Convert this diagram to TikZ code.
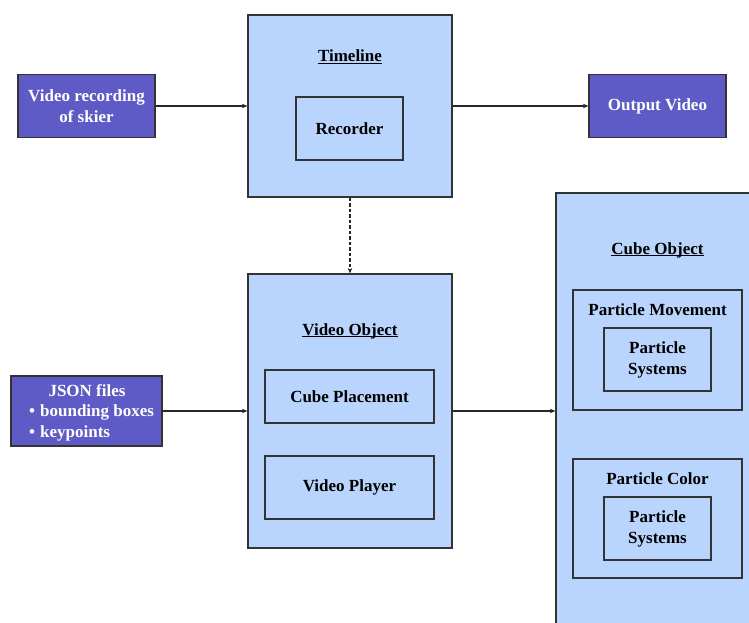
\documentclass[tikz,border=0pt]{standalone}
\usepackage{fontspec}
\setmainfont{Liberation Serif}
\usetikzlibrary{arrows.meta}
\definecolor{darkfill}{HTML}{5F5BC6}
\definecolor{lightfill}{HTML}{B9D5FD}
\definecolor{edgegray}{HTML}{333333}
\newcommand\ulx[1]{\setbox0\hbox{#1}\rlap{\rule[-2.3pt]{\wd0}{1.1pt}}\box0}
\tikzset{
  base/.style={draw=edgegray, line width=1.2pt, inner sep=0pt, font=\fontsize{17}{21}\selectfont\bfseries, align=center},
  darkbox/.style={base, fill=darkfill, text=white},
  lightbox/.style={base, fill=lightfill, text=black},
  lbl/.style={inner sep=0pt, font=\fontsize{17}{21}\selectfont\bfseries, align=center},
  conn/.style={draw=black!85, line width=1.3pt, -{Stealth[length=5.5pt,width=4.5pt]}},
}
\begin{document}
\begin{tikzpicture}[x=1pt,y=1pt]
\useasboundingbox (0,0) rectangle (749,-622);
\fill[white] (0,0) rectangle (749,-622);
% left / top boxes
\node[darkbox, minimum width=137pt, minimum height=63pt] (vid) at (86.5,-106) {Video recording\\of skier};
\node[lightbox, minimum width=204pt, minimum height=182pt] (tl) at (350,-106) {};
\node[lbl] (tlt) at (350,-57) {\ulx{Timeline}};
\node[lightbox, minimum width=107pt, minimum height=63pt] (rec) at (349.5,-128.5) {Recorder};
\node[darkbox, minimum width=137pt, minimum height=63pt] (out) at (657.5,-106) {Output Video};
% video object
\node[lightbox, minimum width=204pt, minimum height=274pt] (vo) at (350,-411) {};
\node[lbl] (vot) at (350,-331) {\ulx{Video Object}};
\node[lightbox, minimum width=169pt, minimum height=53pt] (cp) at (349.5,-396.5) {Cube Placement};
\node[lightbox, minimum width=169pt, minimum height=63pt] (vp) at (349.5,-487.5) {Video Player};
% json
\node[darkbox, minimum width=151pt, minimum height=70pt] (json) at (86.5,-411) {};
\node[lbl, text=white] (jsont) at (87,-391) {JSON files};
\node[lbl, text=white, anchor=west, align=left] (jsonb) at (29,-423) {\textbullet\hspace{5pt}bounding boxes\\ \textbullet\hspace{5pt}keypoints};
% cube object (extends past the page)
\begin{scope}
\clip (0,0) rectangle (749,-622);
\node[lightbox, minimum width=204pt, minimum height=507pt] (co) at (658,-446.5) {};
\end{scope}
\node[lbl] (cot) at (657.5,-250) {\ulx{Cube Object}};
\node[lightbox, minimum width=169pt, minimum height=120pt] (pm) at (657.5,-350) {};
\node[lbl] (pmt) at (657.5,-310) {Particle Movement};
\node[lightbox, minimum width=107pt, minimum height=63pt] (ps1) at (657.5,-359.5) {Particle\\Systems};
\node[lightbox, minimum width=169pt, minimum height=119pt] (pc) at (657.5,-518.5) {};
\node[lbl] (pct) at (657.5,-479) {Particle Color};
\node[lightbox, minimum width=107pt, minimum height=63pt] (ps2) at (657.5,-528.5) {Particle\\Systems};
% connectors
\draw[conn] (vid.east) -- (vid.east -| tl.west);
\draw[conn] (out.west -| tl.east) -- (out.west);
\draw[conn, dash pattern=on 3.5pt off 2pt, line width=1.1pt] (tl.south) -- (vo.north);
\draw[conn] (json.east) -- (json.east -| vo.west);
\draw[conn] (json.east -| vo.east) -- (json.east -| co.west);
\end{tikzpicture}
\end{document}
